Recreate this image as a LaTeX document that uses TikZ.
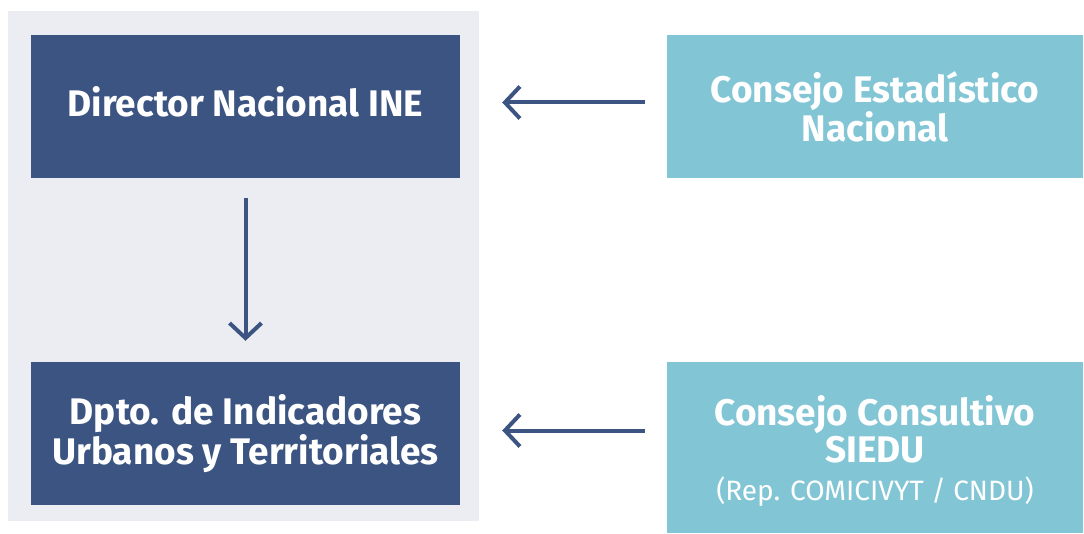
\documentclass[tikz,border=0pt]{standalone}
\usepackage{fontspec}
\setmainfont{Fira Sans}
\definecolor{inecolor}{RGB}{60,84,130}
\definecolor{consejocolor}{RGB}{130,198,214}
\definecolor{fondocolor}{RGB}{236,237,242}
\usetikzlibrary{arrows.meta, positioning}

\begin{document}
\begin{tikzpicture}[x=1pt, y=-1pt,
    inebox/.style={rectangle, fill=inecolor, text=white, minimum width=429pt, minimum height=143pt, align=center, font=\fontsize{37}{37}\selectfont\bfseries},
    consejobox/.style={rectangle, fill=consejocolor, text=white, minimum width=416pt, align=center, font=\fontsize{37}{37.5}\selectfont\bfseries},
    flecha/.style={draw=inecolor, line width=4pt, -{Straight Barb[length=15pt, width=32pt, line width=4pt]}}
]
    \useasboundingbox (0,0) rectangle (1084,534);
    \fill[fondocolor] (8,11) rectangle (479,521);

    \node[inebox, text depth=10pt] (director) at (245.5,106.5) {Director Nacional INE};
    \node[inebox] (dpto) at (245.5,433.5) {Dpto. de Indicadores\\Urbanos y Territoriales};
    \node[consejobox, minimum height=143pt] (cen) at (875,106.5) {Consejo Estadístico\\Nacional};
    \node[consejobox, minimum height=171pt, text depth=0pt] (siedu) at (875,447.5) {Consejo Consultivo\\SIEDU\\{\fontsize{28}{37.5}\selectfont\mdseries (Rep. COMICIVYT / CNDU)}};

    \draw[flecha, shorten <=20pt, shorten >=21pt] (director) -- (dpto);
    \draw[flecha, shorten <=22pt, shorten >=42pt] ([yshift=4pt]cen.west) -- ([yshift=4pt]director.east);
    \draw[flecha, shorten <=22pt, shorten >=42pt] ([yshift=3pt]siedu.west |- dpto.east) -- ([yshift=3pt]dpto.east);
\end{tikzpicture}
\end{document}
